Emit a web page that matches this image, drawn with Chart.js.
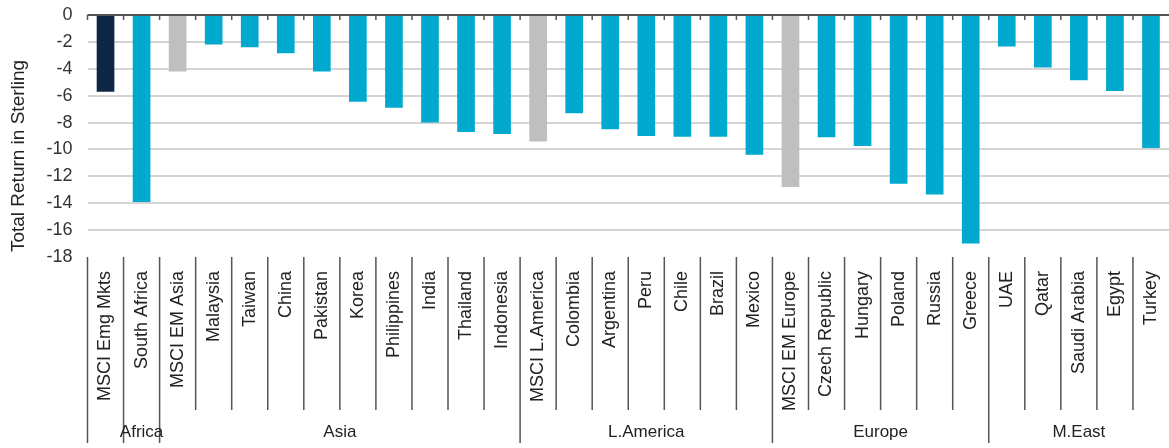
<!DOCTYPE html>
<html>
<head>
<meta charset="utf-8">
<script src="https://cdn.jsdelivr.net/npm/chart.js@4.4.1/dist/chart.umd.min.js"></script>
<style>
  html, body { margin: 0; padding: 0; background: #fff; }
  #wrap { width: 1169px; height: 448px; }
</style>
</head>
<body>
<div id="wrap"><canvas id="returnsChart"></canvas></div>
<script>
const countries = ['MSCI Emg Mkts', 'South Africa', 'MSCI EM Asia', 'Malaysia', 'Taiwan', 'China', 'Pakistan',
    'Korea', 'Philippines', 'India', 'Thailand', 'Indonesia', 'MSCI L.America', 'Colombia', 'Argentina',
    'Peru', 'Chile', 'Brazil', 'Mexico', 'MSCI EM Europe', 'Czech Republic', 'Hungary', 'Poland', 'Russia',
    'Greece', 'UAE', 'Qatar', 'Saudi Arabia', 'Egypt', 'Turkey'];
const returns = [-5.7, -13.9, -4.2, -2.2, -2.4, -2.85, -4.2, -6.45, -6.9, -8.0, -8.7, -8.85, -9.4, -7.3, -8.5,
    -9.0, -9.05, -9.05, -10.4, -12.8, -9.1, -9.75, -12.55, -13.35, -17.0, -2.35, -3.9, -4.85, -5.65, -9.9];

// regions along the bottom: name and index of the first country in each
const groupNames = ['', 'Africa', 'Asia', 'L.America', 'Europe', 'M.East'];
const groupStarts = [0, 1, 2, 12, 19, 25];

const yMin = -18;
const yMax = 0;
const yStep = 2;
const yTitle = 'Total Return in Sterling';

const FONT = '"Liberation Sans", Arial, sans-serif';

function barColor(label) {
    if (label === 'MSCI Emg Mkts') return '#0c2846';
    if (label.startsWith('MSCI')) return '#bfbfbf';
    return '#00a9cd';
}

// zero line with little ticks, category separators, region labels, y title
const groupAxis = {
    id: 'groupAxis',
    afterDatasetsDraw(chart) {
        const { ctx, chartArea, scales: { x, y } } = chart;
        const n = countries.length;
        const step = x.width / n;
        const zeroY = y.getPixelForValue(0);
        const edge = i => x.left + i * step;

        ctx.save();
        ctx.strokeStyle = '#555';
        ctx.lineWidth = 2;
        ctx.beginPath();
        ctx.moveTo(chartArea.left, zeroY);
        ctx.lineTo(chartArea.right, zeroY);
        ctx.stroke();

        ctx.lineWidth = 1.5;
        ctx.beginPath();
        for (let i = 0; i < n; i++) {
            const px = edge(i);
            ctx.moveTo(px, zeroY);
            ctx.lineTo(px, zeroY + 5);
            ctx.moveTo(px, chartArea.bottom);
            ctx.lineTo(px, groupStarts.includes(i) ? 443 : 410);
        }
        ctx.stroke();

        ctx.fillStyle = '#222';
        ctx.font = '17px ' + FONT;
        ctx.textAlign = 'center';
        ctx.textBaseline = 'middle';
        groupNames.forEach((name, g) => {
            const start = groupStarts[g];
            const end = g + 1 < groupStarts.length ? groupStarts[g + 1] : n;
            ctx.fillText(name, (edge(start) + edge(end)) / 2, 432);
        });

        ctx.font = '19px ' + FONT;
        ctx.translate(19, 156);
        ctx.rotate(-Math.PI / 2);
        ctx.fillText(yTitle, 0, 0);
        ctx.restore();
    }
};

const ctx = document.getElementById('returnsChart');

new Chart(ctx, {
    type: 'bar',
    data: {
        labels: countries,
        datasets: [{
            label: yTitle,
            data: returns,
            backgroundColor: countries.map(barColor),
            borderWidth: 0,
            barPercentage: 0.49,
            categoryPercentage: 1
        }]
    },
    options: {
        responsive: true,
        maintainAspectRatio: false,
        animation: false,
        layout: { padding: { top: 15, right: 0, bottom: 0, left: 0 } },
        plugins: {
            legend: { display: false },
            tooltip: { enabled: false }
        },
        scales: {
            x: {
                grid: { display: false },
                border: { display: false },
                ticks: {
                    autoSkip: false,
                    minRotation: 90,
                    maxRotation: 90,
                    padding: 6,
                    color: '#222',
                    font: { family: FONT, size: 18 }
                },
                afterFit: scale => {
                    scale.height = 191;
                    scale.paddingLeft = 0;
                    scale.paddingRight = 0;
                }
            },
            y: {
                min: yMin,
                max: yMax,
                ticks: {
                    stepSize: yStep,
                    padding: 15,
                    color: '#333',
                    font: { family: FONT, size: 18 }
                },
                grid: {
                    drawTicks: false,
                    lineWidth: 2,
                    color: c => (c.tick.value === 0 || c.tick.value === yMin) ? 'rgba(0,0,0,0)' : '#d4d4d4'
                },
                border: { display: false },
                afterFit: scale => {
                    scale.width = 87.5;
                    scale.paddingTop = 0;
                    scale.paddingBottom = 0;
                }
            }
        }
    },
    plugins: [groupAxis]
});
</script>
</body>
</html>
